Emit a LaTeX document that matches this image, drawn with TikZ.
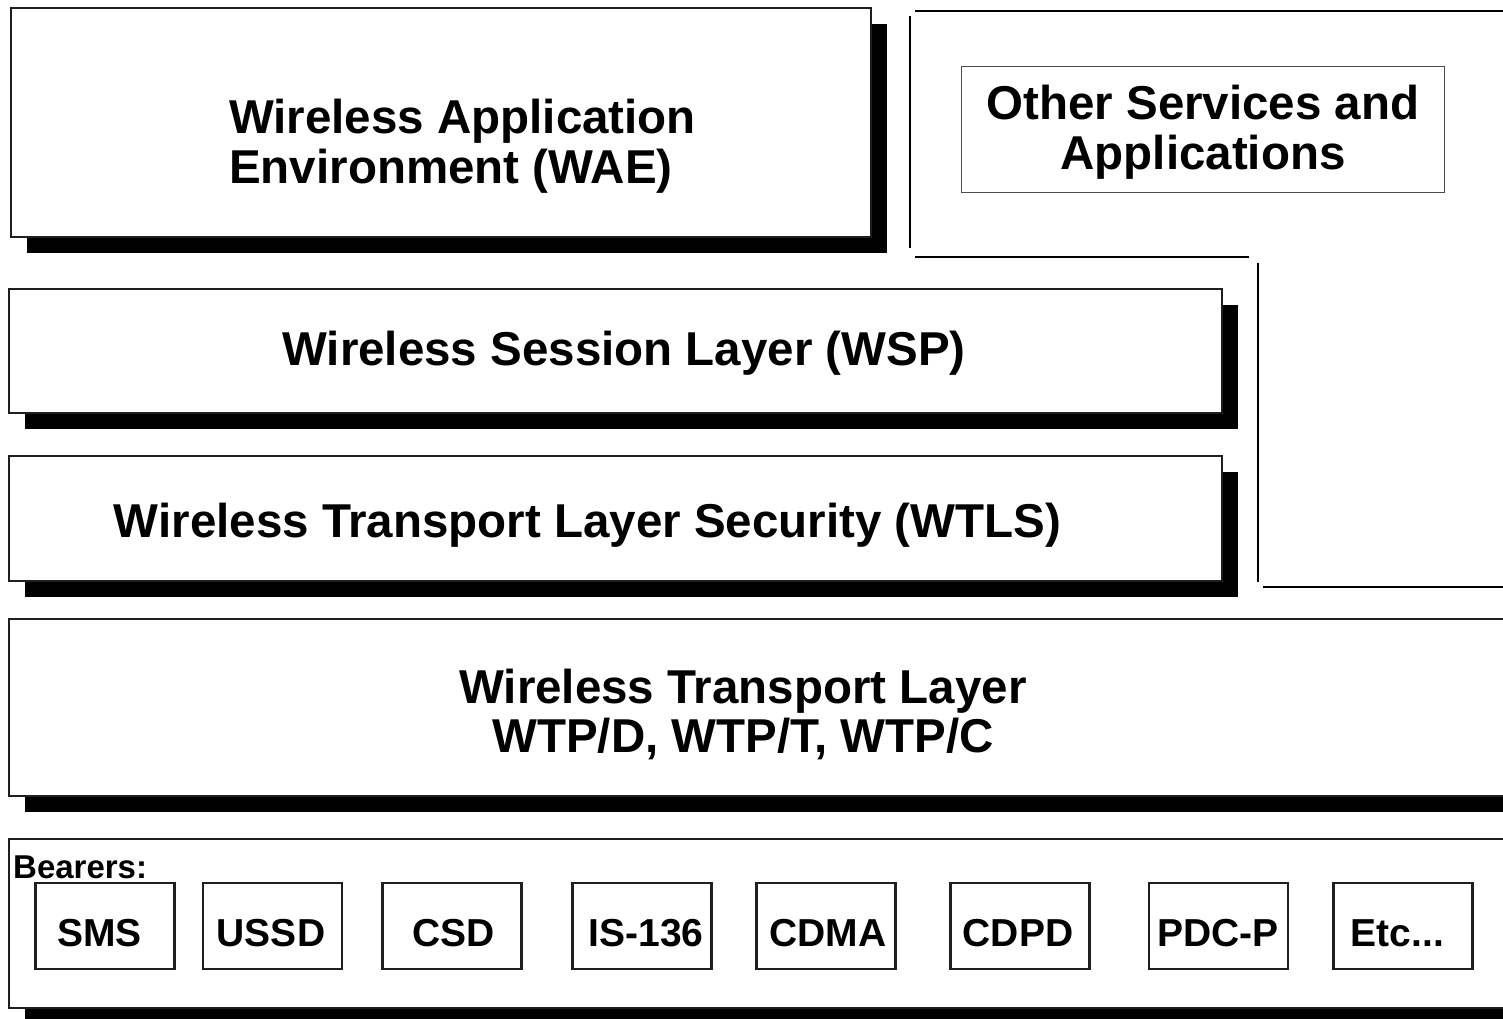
\documentclass[tikz,border=0pt]{standalone}
\usepackage{fontspec}
\setmainfont{Liberation Sans}
\usetikzlibrary{shadows}
\begin{document}
\begin{tikzpicture}[x=1pt,y=-1pt,
  layer/.style={rectangle, draw=black!88, line width=2.2pt, fill=white, inner sep=0pt,
    drop shadow={shadow xshift=16pt, shadow yshift=-16pt, fill=black, opacity=1}},
  thinbox/.style={rectangle, draw=black!70, line width=1pt, fill=white, inner sep=0pt},
  bearer/.style={rectangle, draw=black!88, line width=2.2pt, fill=white, inner sep=0pt,
    minimum width=139pt, minimum height=86pt},
  bigtxt/.style={inner sep=0pt, font=\fontsize{47.5}{55}\selectfont\bfseries},
  midtxt/.style={inner sep=0pt, font=\fontsize{39}{45}\selectfont\bfseries, anchor=base},
  smalltxt/.style={inner sep=0pt, font=\fontsize{33}{38}\selectfont\bfseries},
  frame/.style={line width=2.8pt, draw=black}
]
\clip (0,0) rectangle (1503,1018);
\fill[white] (0,0) rectangle (1503,1018);

% layer boxes
\node[layer, minimum width=860pt, minimum height=229pt] (wae) at (441,122.5) {};
\node[layer, minimum width=1213pt, minimum height=124pt] (wsp) at (615.5,351) {};
\node[layer, minimum width=1213pt, minimum height=125pt] (wtls) at (615.5,518.5) {};
\node[layer, minimum width=1511pt, minimum height=177pt] (wtp) at (764.5,707.5) {};
\node[layer, minimum width=1511pt, minimum height=169pt] (bear) at (764.5,923.5) {};

% other services frame
\draw[frame] (910,16) -- (910,248);
\draw[frame] (915,11) -- (1510,11);
\draw[frame] (915,257) -- (1249,257);
\draw[frame] (1258,263) -- (1258,582);
\draw[frame] (1263,587) -- (1510,587);
\node[thinbox, minimum width=483pt, minimum height=126pt] (osa) at (1202.5,129) {};

% texts
\node[bigtxt, anchor=base west] (waeA) at (229,133) {Wireless Application};
\node[bigtxt, anchor=base west] (waeB) at (229,183) {Environment (WAE)};
\node[bigtxt, anchor=base] (osaA) at (1203,119) {Other Services and};
\node[bigtxt, anchor=base] (osaB) at (1203,169) {Applications};
\node[bigtxt, anchor=base] (wspT) at (624,365) {Wireless Session Layer (WSP)};
\node[bigtxt, anchor=base] (wtlsT) at (587.5,537) {Wireless Transport Layer Security (WTLS)};
\node[bigtxt, anchor=base] (wtpA) at (743,703) {Wireless Transport Layer};
\node[bigtxt, anchor=base] (wtpB) at (743,752) {WTP/D, WTP/T, WTP/C};
\node[smalltxt, anchor=base west] (bearT) at (13,878) {Bearers:};

% bearer boxes
\node[bearer] (sms) at (105,926) {};
\node[bearer] (ussd) at (272.5,926) {};
\node[bearer] (csd) at (452,926) {};
\node[bearer] (is) at (642,926) {};
\node[bearer] (cdma) at (826,926) {};
\node[bearer] (cdpd) at (1020,926) {};
\node[bearer] (pdc) at (1218.5,926) {};
\node[bearer] (etc) at (1403,926) {};

\node[midtxt] (smsT) at (99.5,946) {SMS};
\node[midtxt] (ussdT) at (271,946) {USSD};
\node[midtxt] (csdT) at (453.5,946) {CSD};
\node[midtxt] (isT) at (646,946) {IS-136};
\node[midtxt] (cdmaT) at (828,946) {CDMA};
\node[midtxt] (cdpdT) at (1018,946) {CDPD};
\node[midtxt] (pdcT) at (1218,946) {PDC-P};
\node[midtxt] (etcT) at (1397.5,946) {Etc...};
\end{tikzpicture}
\end{document}
